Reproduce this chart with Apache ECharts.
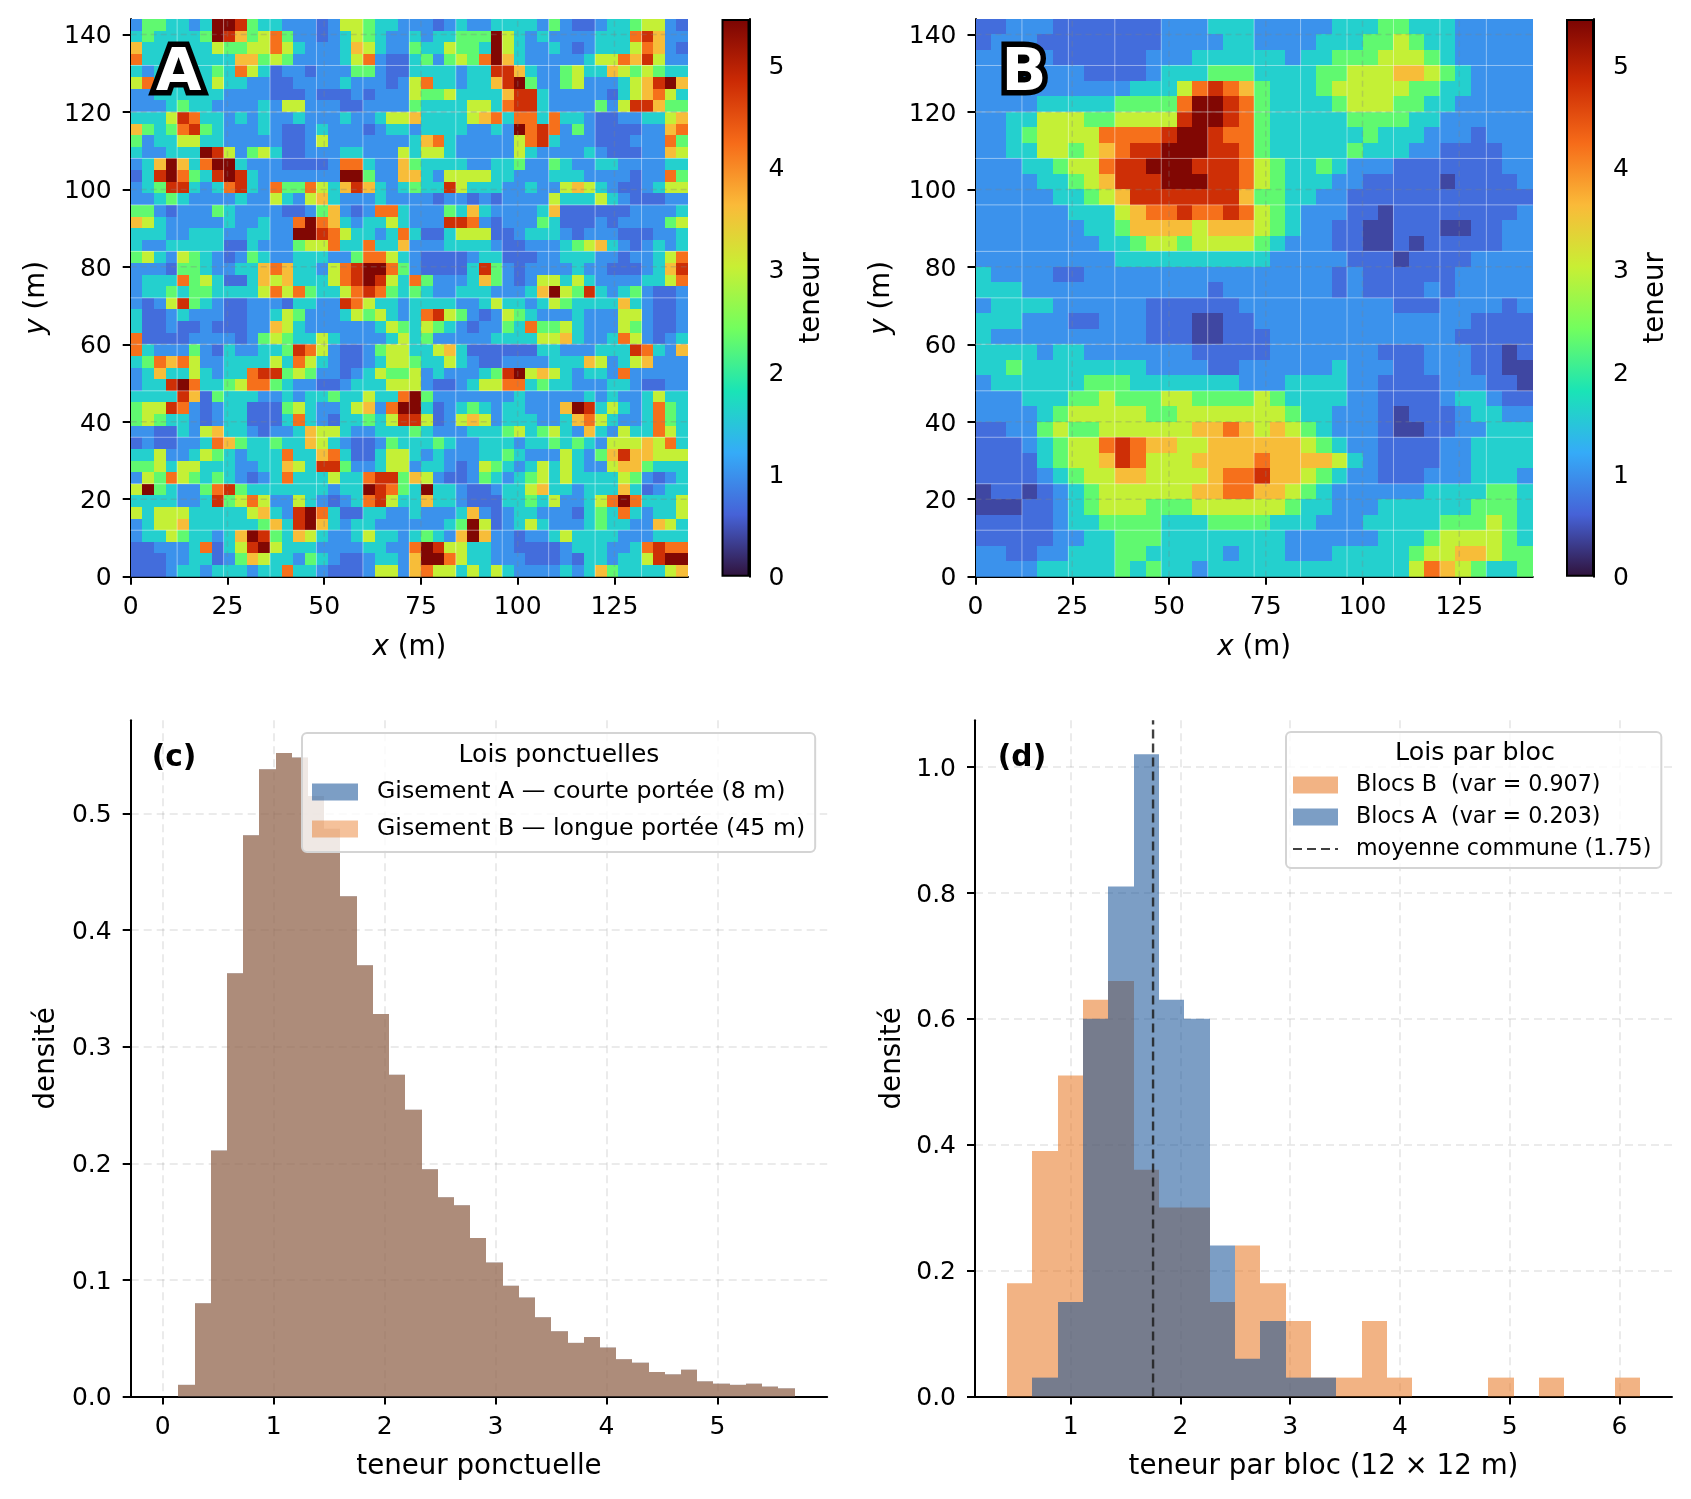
<!DOCTYPE html>
<html><head><meta charset="utf-8">
<style>html,body{margin:0;padding:0;background:#fff}#c{width:1691px;height:1499px}</style>
<script src="https://cdn.jsdelivr.net/npm/echarts@6/dist/echarts.min.js"></script>
</head><body><div id="c"></div>
<script>
// Values. Maps: one digit per cell, top row first; digit indexes the grade table.
const grades = [0.4,0.7,1.0,1.6,2.3,3.0,3.6,4.2,4.8,5.4];
const cellA = 3, cellB = 4;
const mapA = [
"244332399843322212554332"+"221232233332421123345521",
"343333498645742212354322"+"323344495323222233378622",
"633333354455753222365322"+"433544395322321233357621",
"733333333664542222357211"+"342454796322222355768522",
"323333343753122122244211"+"333323388632245336545433",
"573333353322112222322212"+"573323368942245222356896",
"223333332222111211121222"+"544533336883222221356753",
"222343322223255222112222"+"433335537883222242588644",
"333587332323223222322355"+"633335673773733211223356",
"643478432223211232221233"+"233332232978724211112267",
"423355332222211252222222"+"367322222578322211122274",
"322333985245311222332225"+"355322222532222321112265",
"236963799322211112773226"+"433332233422432233222233",
"138974389832222222994226"+"632555533222333222212274",
"234883237832744753686323"+"433853332232256532112355",
"223432222322532563222322"+"221221212222533353211122",
"442122243222211246212773"+"222436322223611111122223",
"653222223223227976323353"+"222887212224311121222245",
"333223332233229987533237"+"311355511233321222111223",
"322333331132224557337336"+"222333321122234563212323",
"453254321243223332247753"+"211112331112233322122357",
"222144322336763325789974"+"211113842122223221112368",
"233374531136563335789853"+"742223642125535322223357",
"233434433335757433578743"+"432233322236954832342112",
"212584321122213322875332"+"333322353323543333632112",
"311232221122354222354532"+"378542125432223222552112",
"311211211122653222222354"+"354321224374453222542112",
"711112222124543353222235"+"342222233335563223752123",
"732224213223348752112455"+"335631111113322233387326",
"347675223333537532112355"+"433532112222333652356222",
"236335323378845422123544"+"523222348956532332722222",
"233897334577432211233355"+"521123557734332223321122",
"333386143332232334335337"+"942222222322222323223533",
"455872123311145322356279"+"931234323322269835323743",
"454332123311137321334358"+"851256523332236753223743",
"221132563321223655322333"+"432223334534532632533753",
"121122376433433653211243"+"334322333233434325556573",
"335223543233373367311355"+"323222334322253246866555",
"445355333223365388422355"+"233212543235353225664333",
"254754343212373335337884"+"652112432345353333542123",
"594322478433333332339874"+"393321123356332333631233",
"333322384575225321237853"+"363321113343522357973335",
"535553333356328973113322"+"322236212332221343732335",
"235563333334638963233222"+"222349512353222343322653",
"233543323698436532235332"+"343269622122353333222333",
"112223713589533322223322"+"798553322111123332237877",
"111223312465332432112332"+"699753322211121332335899",
"111233233323373321112552"+"675535353222232364333356"
];
const mapB = [
"112221111111222333222223334433322222",
"122211111111222233222233344543322222",
"222221111112223333332334445554322222",
"222222211112333444333344555665432222",
"222222222233357876433345555544332222",
"222233333444479987433334555443322222",
"223355544555589987433333444433222222",
"223455557777899877433333343332221222",
"223355456788999887433333433322111122",
"222334557889998887543343222111111122",
"222233456888999887543332211111011112",
"222223345688888886443322111111111111",
"222222333567787787543222110111111112",
"222222233466665666543221100111001122",
"222222223345545555432221100101111122",
"222222222333333333322222111011112222",
"322221122222222222222221211111122222",
"333222222222222122222221211112122222",
"233332222221111112222222222111222212",
"333222112221110011222222222222221111",
"322222222221110011122222222222211111",
"333323322222221111122222221112221101",
"334333333332222112222223222112221100",
"233333344433333332223333221111222110",
"222333445444554444543333221111233211",
"222234555554455555554332221011123322",
"112245445555556676565432221001122333",
"111234557876655666666543221111223333",
"111134556875556666766665321111223333",
"111123455665555677866543221112223332",
"011012345555556677665432222223333443",
"000112345554445555554332223333334443",
"111112334444333444433322233333444543",
"111112233444333333332222223334555543",
"221122333443333323332223333345566544",
"222233333434332333333333333357654334"
];
const mapExtent = 144;
const mapXTicks = [0,25,50,75,100,125];
const mapYTicks = [0,20,40,60,80,100,120,140];
const blockLines = [12,24,36,48,60,72,84,96,108,120,132];
const barMax = 5.45;
const barTicks = [0,1,2,3,4,5];
const turbo = ['#30123b','#4662d7','#35abf8','#1ae4b6','#72fe5e','#c8ef34','#faba39','#f66b19','#cb2a04','#7a0403'];

const binStartC = 0.14, binWidthC = 0.1462;
const densityC = [0.010,0.080,0.211,0.363,0.4815,0.538,0.552,0.548,0.515,0.487,0.429,0.370,0.328,0.276,0.246,0.195,0.171,0.164,0.136,0.115,0.095,0.085,0.068,0.056,0.046,0.051,0.042,0.032,0.029,0.021,0.019,0.023,0.013,0.011,0.010,0.011,0.0085,0.007];
const cXTicks = [0,1,2,3,4,5];
const cYTicks = [0,0.1,0.2,0.3,0.4,0.5];

const binStartD = 0.42, binWidthD = 0.2309;
const blocksB = [0.18,0.39,0.51,0.63,0.66,0.36,0.30,0.30,0.15,0.24,0.18,0.12,0.03,0.03,0.12,0.03,0,0,0,0.03,0,0.03,0,0,0.03];
const blocksA = [0,0.03,0.15,0.60,0.81,1.02,0.63,0.60,0.24,0.06,0.12,0.03,0.03,0,0,0,0,0,0,0,0,0,0,0,0];
const dXTicks = [1,2,3,4,5,6];
const dYTicks = [0,0.2,0.4,0.6,0.8,1.0];
const meanValue = 1.75;

const FONT = '"DejaVu Sans"';
const BLUE = '#114e95', ORANGE = '#e8751f';
function rgba(hex,a){const n=parseInt(hex.slice(1),16);return `rgba(${n>>16},${(n>>8)&255},${n&255},${a})`;}
function cells(rows,size){const out=[];rows.forEach((s,r)=>{for(let c=0;c<s.length;c++){out.push([c*size,mapExtent-(r+1)*size,grades[+s[c]],size]);}});return out;}
function bins(vals,start,w){return vals.map((v,i)=>[start+i*w,start+(i+1)*w,v]).filter(d=>d[2]>0);}

const tick = {length:8,lineStyle:{color:'#000',width:2}};
const line = {show:true,onZero:false,lineStyle:{color:'#000',width:2}};
const labelX = {color:'#000',fontFamily:FONT,fontSize:25,margin:18.5};
const labelY = {color:'#000',fontFamily:FONT,fontSize:25,margin:19,
  rich:{a:{color:'#000',fontFamily:FONT,fontSize:25,padding:[4.5,0,0,0]}}};
const wrapY = fmt => v => '{a|' + (fmt ? fmt(v) : String(v)) + '}';
const nameStyle = {color:'#000',fontFamily:FONT,fontSize:27.7,rich:{i:{fontStyle:'italic',fontFamily:FONT,fontSize:27.7,color:'#000'}}};
const dash = {show:true,lineStyle:{color:'rgba(120,120,120,0.15)',type:[8,5],width:2}};

function valueAxis(isY,idx,min,max,ticks,name,gap,fmt,split){
  return {type:'value',gridIndex:idx,min,max,name,nameLocation:'middle',nameGap:gap,nameTextStyle:nameStyle,
    axisLine:line,axisTick:Object.assign({customValues:ticks},tick),
    axisLabel:Object.assign({customValues:ticks,formatter:isY?wrapY(fmt):(fmt||(v=>String(v))),showMinLabel:true,showMaxLabel:true},isY?labelY:labelX),
    splitLine:split?Object.assign({customValues:ticks},dash):{show:false},minorTick:{show:false}};
}

const G = [
 {left:130.7,top:19,width:557.3,height:557.7},
 {left:975.5,top:19,width:557.3,height:557.7},
 {left:721.5,top:19,width:28,height:557.7},
 {left:1566,top:19,width:28,height:557.7},
 {left:130.7,top:720.3,width:696.5,height:676.2},
 {left:975,top:720.3,width:697,height:676.2}
];

const xAxes=[], yAxes=[], series=[];
function addMap(g,rows,size,name){
  xAxes.push(valueAxis(false,g,0,mapExtent,mapXTicks,'{i|x} (m)',57));
  yAxes.push(valueAxis(true,g,0,mapExtent,mapYTicks,'{i|y} (m)',80));
  series.push({name,type:'custom',xAxisIndex:g,yAxisIndex:g,data:cells(rows,size),dimensions:['x','y','v','s'],encode:{x:0,y:1},
    progressive:0,silent:true,clip:true,
    renderItem:(p,api)=>{const x=api.value(0),y=api.value(1),s=api.value(3);const a=api.coord([x,y+s]),b=api.coord([x+s,y]);
      const l=Math.round(a[0]),t=Math.round(a[1]),r=Math.round(b[0]),d=Math.round(b[1]);
      return {type:'rect',shape:{x:l,y:t,width:r-l,height:d-t},style:{fill:api.visual('color')}};}});
  const overlay=(vals,isX,style)=>({type:'custom',xAxisIndex:g,yAxisIndex:g,z:5,silent:true,data:vals.map(v=>[v]),encode:{x:0},
    renderItem:(p,api)=>{const v=api.value(0);const a=isX?api.coord([v,0]):api.coord([0,v]);const b=isX?api.coord([v,mapExtent]):api.coord([mapExtent,v]);
      return {type:'line',shape:{x1:a[0],y1:a[1],x2:b[0],y2:b[1]},style};}});
  const white={stroke:'rgba(255,255,255,0.45)',lineWidth:1};
  const gray={stroke:'rgba(130,130,130,0.3)',lineWidth:1.5,lineDash:[6,4]};
  series.push(overlay(blockLines,true,white),overlay(blockLines,false,white),overlay(mapXTicks.slice(1),true,gray),overlay(mapYTicks.slice(1),false,gray));
}
function addBar(g){
  xAxes.push({type:'category',gridIndex:g,data:['teneur'],show:false});
  yAxes.push({type:'value',gridIndex:g,min:0,max:barMax,position:'right',name:'teneur',nameLocation:'middle',nameRotate:90,nameGap:48,nameTextStyle:nameStyle,
    axisLine:line,axisTick:Object.assign({customValues:barTicks},tick),axisLabel:Object.assign({customValues:barTicks,formatter:wrapY()},labelY),splitLine:{show:false}});
  series.push({type:'bar',xAxisIndex:g,yAxisIndex:g,barWidth:'100%',silent:true,data:[barMax],
    itemStyle:{borderColor:'#000',borderWidth:2,color:new echarts.graphic.LinearGradient(0,1,0,0,turbo.map((c,i)=>({offset:i/(turbo.length-1),color:c})))}});
}
function addHist(g,name,vals,start,w,color){
  series.push({name,type:'custom',xAxisIndex:g,yAxisIndex:g,data:bins(vals,start,w),encode:{x:[0,1],y:2},silent:true,
    itemStyle:{color},
    renderItem:(p,api)=>{const a=api.coord([api.value(0),api.value(2)]),b=api.coord([api.value(1),0]);
      const l=Math.round(a[0]),r=Math.round(b[0]);
      return {type:'rect',shape:{x:l,y:a[1],width:r-l,height:b[1]-a[1]},style:{fill:color}};}});
}
addMap(0,mapA,cellA,'A');
addMap(1,mapB,cellB,'B');
addBar(2); addBar(3);
const f1=v=>v.toFixed(1);
xAxes.push(valueAxis(false,4,-0.289,5.99,cXTicks,'teneur ponctuelle',56,null,true));
yAxes.push(valueAxis(true,4,0,0.58,cYTicks,'densité',70,f1,true));
xAxes.push(valueAxis(false,5,0.127,6.48,dXTicks,'teneur par bloc (12 × 12 m)',56,null,true));
yAxes.push(valueAxis(true,5,0,1.074,dYTicks,'densité',68,f1,true));
const nameA='Gisement A — courte portée (8 m)',nameB='Gisement B — longue portée (45 m)';
addHist(4,nameA,densityC,binStartC,binWidthC,rgba(BLUE,0.55));
addHist(4,nameB,densityC,binStartC,binWidthC,rgba(ORANGE,0.45));
const nameBB='Blocs B  (var = 0.907)',nameBA='Blocs A  (var = 0.203)',nameMean='moyenne commune (1.75)';
addHist(5,nameBB,blocksB,binStartD,binWidthD,rgba(ORANGE,0.55));
addHist(5,nameBA,blocksA,binStartD,binWidthD,rgba(BLUE,0.55));
series.push({name:nameMean,type:'line',xAxisIndex:5,yAxisIndex:5,data:[[meanValue,0],[meanValue,1.074]],symbol:'none',silent:true,z:6,
  lineStyle:{color:'rgba(30,30,30,0.85)',width:2.4,type:[9,5]},itemStyle:{color:'rgba(30,30,30,0.85)'}});

const legendBase={orient:'vertical',backgroundColor:'rgba(255,255,255,0.8)',borderColor:'#d4d4d4',borderWidth:2,borderRadius:5,selectedMode:false,zlevel:2,align:'left'};
function txt(text,x,y,size,weight,extra){return {type:'text',zlevel:3,x,y,style:Object.assign({text,fill:'#000',font:`${weight||'normal'} ${size}px ${FONT}`,align:'center',verticalAlign:'middle'},extra||{})};}
function big(text,x,y){return [
  txt(text,x,y,59,'bold',{fill:'#000',stroke:'#000',lineWidth:11,lineJoin:'round'}),
  txt(text,x,y,59,'bold',{fill:'#fff'})];}

echarts.init(document.getElementById('c'),null,{renderer:'canvas'}).setOption({
  animation:false,backgroundColor:'#fff',textStyle:{fontFamily:FONT},
  grid:G.map(g=>Object.assign({containLabel:false},g)),xAxis:xAxes,yAxis:yAxes,series,
  visualMap:{show:false,type:'continuous',min:0,max:barMax,dimension:2,seriesIndex:[0,5],inRange:{color:turbo}},
  legend:[
   Object.assign({},legendBase,{left:302,top:733,padding:[47,10,11,10],itemGap:13,itemWidth:46,itemHeight:17,
     data:[{name:nameA,icon:'rect'},{name:nameB,icon:'rect'}],textStyle:{fontFamily:FONT,fontSize:23.65,color:'#000',padding:[0,0,0,14]}}),
   Object.assign({},legendBase,{left:1286,top:732,padding:[42,10,8,6],itemGap:10,itemWidth:45,itemHeight:17,
     data:[{name:nameBB,icon:'rect'},{name:nameBA,icon:'rect'},{name:nameMean,itemStyle:{opacity:0}}],textStyle:{fontFamily:FONT,fontSize:22.2,color:'#000',padding:[0,0,0,13]}})
  ],
  graphic:[...big('A',178.5,74.5),...big('B',1024,74.5),
    txt('(c)',174,758,29.7,'bold'),txt('(d)',1022,758,29.7,'bold'),
    txt('Lois ponctuelles',559,755.5,25),txt('Lois par bloc',1475,753,25.3)]
});
</script></body></html>
